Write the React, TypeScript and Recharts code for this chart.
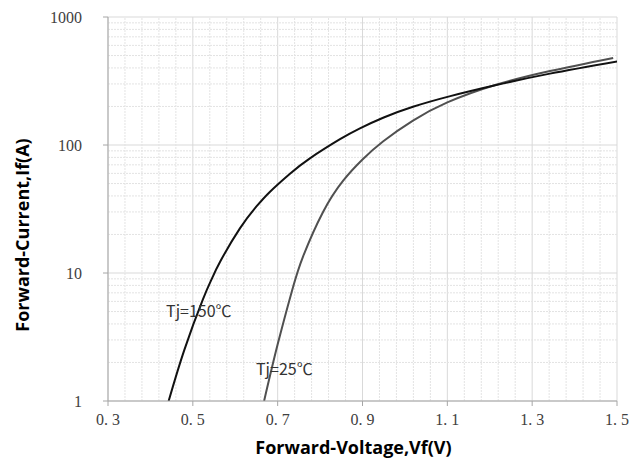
import React from "react";
import {
  CartesianGrid,
  Line,
  LineChart,
  ReferenceDot,
  ReferenceLine,
  XAxis,
  YAxis,
} from "recharts";

// Tj = 150°C curve (V, A)
const vf150 = [0.443, 0.48, 0.524, 0.545, 0.564, 0.611, 0.65, 0.682, 0.729, 0.776, 0.847, 0.894, 0.95, 1.019, 1.107, 1.213, 1.342, 1.503];
const if150 = [1, 2.51, 6.25, 9.04, 12.2, 22.3, 33.1, 43.2, 59.7, 78.7, 111, 135, 164, 199, 241, 293, 361, 451];

// Tj = 25°C curve (V, A)
const vf25 = [0.668, 0.7, 0.734, 0.76, 0.807, 0.854, 0.9, 0.949, 1.019, 1.1, 1.213, 1.342, 1.491];
const if25 = [1, 2.77, 7.31, 13.5, 30.0, 52.5, 77.1, 107, 155, 215, 294, 378, 479];

const xTicks = [0.3, 0.5, 0.7, 0.9, 1.1, 1.3, 1.5];
const yTicks = [1, 10, 100, 1000];
const xMinor = [0.34, 0.38, 0.42, 0.46, 0.54, 0.58, 0.62, 0.66, 0.74, 0.78, 0.82, 0.86, 0.94, 0.98, 1.02, 1.06, 1.14, 1.18, 1.22, 1.26, 1.34, 1.38, 1.42, 1.46];
const yMinor = [2, 3, 4, 5, 6, 7, 8, 9, 20, 30, 40, 50, 60, 70, 80, 90, 200, 300, 400, 500, 600, 700, 800, 900];

const notes = [
  { text: "Tj=150℃", v: 0.437, i: 5.14 },
  { text: "Tj=25℃", v: 0.649, i: 1.81 },
];

const series150 = vf150.map((v, k) => ({ v, i: if150[k] }));
const series25 = vf25.map((v, k) => ({ v, i: if25[k] }));

const tickFont = { fontSize: 16, fill: "#404040", fontFamily: "Liberation Serif, serif" };
const titleFont = "'Open Sans', 'Liberation Sans', sans-serif";

export default function App() {
  return (
    <LineChart width={635} height={453} margin={{ top: 9, right: 26, left: 0, bottom: 0 }}>
      <CartesianGrid stroke="#d9d9d9" />
      {xMinor.map((x) => (
        <ReferenceLine key={"x" + x} x={x} stroke="#e3e3e3" strokeDasharray="2 1" />
      ))}
      {yMinor.map((y) => (
        <ReferenceLine key={"y" + y} y={y} stroke="#e3e3e3" strokeDasharray="2 1" />
      ))}
      <XAxis
        type="number"
        dataKey="v"
        domain={[0.3, 1.5]}
        ticks={xTicks}
        allowDataOverflow
        height={60}
        stroke="#a6a6a6"
        tickSize={5}
        tickMargin={8}
        tick={tickFont}
        tickFormatter={(v: number) => v.toFixed(1).replace(".", ". ")}
        label={{
          content: ({ viewBox }: any) => (
            <text
              x={viewBox.x + viewBox.width / 2 - 9}
              y={viewBox.y + 53}
              textAnchor="middle"
              fontFamily={titleFont}
              fontWeight="bold"
              fontSize={18}
              fill="#000"
            >
              Forward-Voltage,Vf(V)
            </text>
          ),
        }}
      />
      <YAxis
        type="number"
        dataKey="i"
        scale="log"
        domain={[1, 1000]}
        ticks={yTicks}
        allowDataOverflow
        width={100}
        stroke="#a6a6a6"
        tickSize={5}
        tickMargin={21}
        tick={tickFont}
        label={{
          content: ({ viewBox }: any) => {
            const cx = viewBox.x + 14;
            const cy = viewBox.y + viewBox.height / 2 + 26;
            return (
              <text
                x={cx}
                y={cy}
                transform={`rotate(-90, ${cx}, ${cy})`}
                textAnchor="middle"
                dominantBaseline="central"
                fontFamily={titleFont}
                fontWeight="bold"
                fontSize={18}
                fill="#000"
              >
                Forward-Current,If(A)
              </text>
            );
          },
        }}
      />
      <Line
        data={series25}
        dataKey="i"
        type="natural"
        stroke="#505050"
        strokeWidth={2}
        dot={false}
        isAnimationActive={false}
      />
      <Line
        data={series150}
        dataKey="i"
        type="natural"
        stroke="#111"
        strokeWidth={2}
        dot={false}
        isAnimationActive={false}
      />
      {notes.map((n) => (
        <ReferenceDot
          key={n.text}
          x={n.v}
          y={n.i}
          r={0}
          shape={(p: any) => (
            <text
              x={p.cx}
              y={p.cy}
              dominantBaseline="central"
              fontFamily="'Noto Sans CJK SC', 'Noto Sans', sans-serif"
              fontSize={16}
              fill="#333"
            >
              {n.text}
            </text>
          )}
        />
      ))}
    </LineChart>
  );
}
